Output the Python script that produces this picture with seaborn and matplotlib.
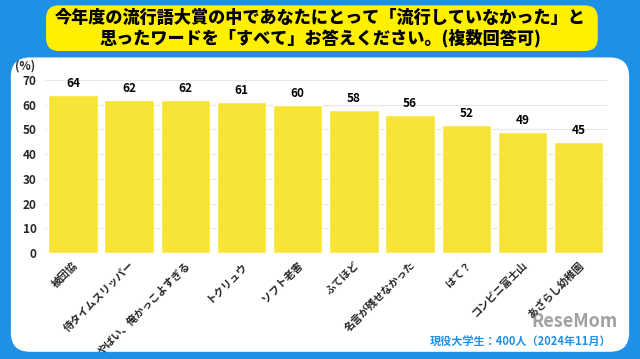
import matplotlib
matplotlib.use("Agg")
import matplotlib.pyplot as plt
import seaborn as sns
import pandas as pd
from matplotlib.patches import FancyBboxPatch

categories = ["被団協", "侍タイムスリッパー", "やばい、俺かっこよすぎる", "トクリュウ", "ソフト老害",
              "ふてほど", "名言が残せなかった", "はて？", "コンビニ富士山", "あざらし幼稚園"]
values = [64, 62, 62, 61, 60, 58, 56, 52, 49, 45]
yticks = [0, 10, 20, 30, 40, 50, 60, 70]

sns.set_theme(style="white")
plt.rcParams['font.family'] = ['Noto Sans CJK JP', 'DejaVu Sans']

BLUE = "#1E90E6"
YELLOW = "#F8E436"

fig = plt.figure(figsize=(6.4, 3.59), dpi=100)
fig.patch.set_facecolor(BLUE)

# white panel
panel = FancyBboxPatch((0.017, 0.02), 0.966, 0.82, boxstyle="round,pad=0,rounding_size=0.03",
                       transform=fig.transFigure, facecolor="white", edgecolor="none",
                       mutation_aspect=640/359, zorder=-5)
fig.patches.append(panel)

# title box
tbox = FancyBboxPatch((0.072, 0.858), 0.862, 0.127, boxstyle="round,pad=0,rounding_size=0.02",
                      transform=fig.transFigure, facecolor="#FFF000", edgecolor="none",
                      mutation_aspect=640/359, zorder=-5)
fig.patches.append(tbox)
fig.text(0.5, 0.921, "今年度の流行語大賞の中であなたにとって「流行していなかった」と\n思ったワードを「すべて」お答えください。(複数回答可)",
         ha="center", va="center", fontsize=12.3, fontweight="black", color="black", linespacing=1.12)

ax = fig.add_axes([0.07, 0.295, 0.878, 0.482])
ax.patch.set_alpha(0)
df = pd.DataFrame({"cat": categories, "val": values})
sns.barplot(data=df, x="cat", y="val", color=YELLOW, saturation=1, width=0.88, ax=ax)
ax.set_ylim(0, 70)
ax.set_yticks(yticks)
ax.set_yticklabels([str(t) for t in yticks], fontsize=8.5, fontweight="bold")
ax.yaxis.grid(True, color="#E6E6E6", linewidth=0.8)
ax.set_axisbelow(True)
for s in ax.spines.values():
    s.set_visible(False)
ax.tick_params(axis="y", length=0, pad=6)
ax.tick_params(axis="x", length=0, pad=5)
ax.set_xlabel("")
ax.set_ylabel("")
ax.set_xticks(range(len(categories)))
ax.set_xticklabels(categories, rotation=45, ha="right", rotation_mode="anchor",
                   fontsize=7.6, fontweight="bold")
for i, v in enumerate(values):
    ax.text(i, v + 2, str(v), ha="center", va="bottom", fontsize=8.5, fontweight="bold", color="black")
ax.text(-0.035, 1.045, "(%)", transform=ax.transAxes, ha="center", va="bottom", fontsize=8.5, fontweight="bold")

fig.text(0.955, 0.048, "現役大学生：400人（2024年11月）", ha="right", va="center",
         fontsize=8, fontweight="bold", color=BLUE)
fig.text(0.965, 0.105, "ReseMom", ha="right", va="center", fontsize=13, fontweight="bold",
         color="#555555", alpha=0.55)

fig.savefig("out.png", dpi=100, facecolor=fig.get_facecolor())
